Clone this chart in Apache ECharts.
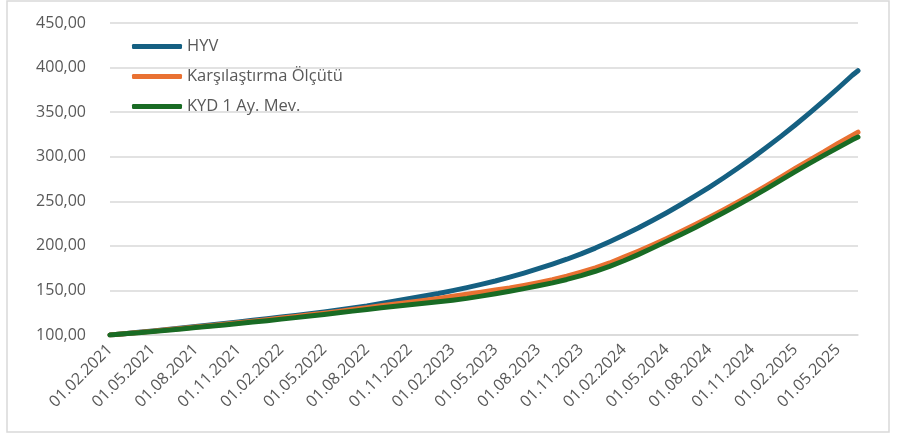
<!DOCTYPE html>
<html>
<head>
<meta charset="utf-8">
<script src="https://cdn.jsdelivr.net/npm/echarts@6/dist/echarts.min.js"></script>
<style>
  html, body { margin: 0; padding: 0; background: #fff; }
  #chart { width: 897px; height: 436px; }
</style>
</head>
<body>
<div id="chart"></div>
<script>
// observation dates (dd.mm.yyyy), last one is mid-June 2025
var dates = [
  '01.02.2021', '01.03.2021', '01.04.2021', '01.05.2021', '01.06.2021', '01.07.2021',
  '01.08.2021', '01.09.2021', '01.10.2021', '01.11.2021', '01.12.2021', '01.01.2022',
  '01.02.2022', '01.03.2022', '01.04.2022', '01.05.2022', '01.06.2022', '01.07.2022',
  '01.08.2022', '01.09.2022', '01.10.2022', '01.11.2022', '01.12.2022', '01.01.2023',
  '01.02.2023', '01.03.2023', '01.04.2023', '01.05.2023', '01.06.2023', '01.07.2023',
  '01.08.2023', '01.09.2023', '01.10.2023', '01.11.2023', '01.12.2023', '01.01.2024',
  '01.02.2024', '01.03.2024', '01.04.2024', '01.05.2024', '01.06.2024', '01.07.2024',
  '01.08.2024', '01.09.2024', '01.10.2024', '01.11.2024', '01.12.2024', '01.01.2025',
  '01.02.2025', '01.03.2025', '01.04.2025', '01.05.2025', '01.06.2025', '13.06.2025'
]

var hyv = [
  100.0, 101.5, 103.0, 104.6, 106.2, 107.8, 109.5, 111.2, 112.9, 114.7, 116.5, 118.3,
  120.1, 122.0, 123.9, 125.9, 128.0, 130.2, 132.6, 135.5, 138.3, 141.0, 143.8, 146.6,
  149.8, 153.2, 156.8, 160.6, 164.9, 169.5, 174.4, 179.6, 185.0, 191.0, 197.5, 204.6,
  212.1, 220.0, 228.4, 237.2, 246.4, 256.0, 266.0, 276.4, 287.3, 298.7, 310.5, 322.8,
  335.6, 348.9, 362.6, 376.8, 391.4, 396.5
]

var olcut = [
  100.0, 101.4, 102.8, 104.3, 105.8, 107.3, 108.9, 110.5, 112.1, 113.8, 115.5, 117.2,
  119.0, 120.8, 122.6, 124.5, 126.5, 128.6, 130.6, 132.8, 134.9, 136.7, 138.8, 141.1,
  143.4, 145.6, 148.0, 150.6, 152.8, 155.6, 158.7, 162.0, 165.9, 170.5, 175.3, 180.8,
  187.3, 194.0, 201.0, 208.3, 216.0, 224.0, 232.2, 240.6, 249.3, 258.2, 267.6, 277.2,
  286.8, 296.2, 305.3, 315.0, 324.0, 327.5
]

var kyd = [
  100.0, 101.3, 102.6, 104.0, 105.4, 106.8, 108.3, 109.8, 111.3, 112.9, 114.5, 116.1,
  117.8, 119.5, 121.2, 123.0, 124.9, 126.8, 128.7, 130.5, 132.3, 133.9, 135.5, 137.2,
  139.0, 141.1, 143.6, 146.3, 149.1, 152.0, 155.2, 158.5, 162.3, 166.7, 171.5, 177.0,
  183.3, 190.2, 197.5, 205.1, 212.8, 220.7, 228.9, 237.4, 246.1, 255.0, 264.3, 273.8,
  283.2, 292.5, 301.5, 310.2, 318.9, 322.0
]

var seriesNames = ['HYV', 'Karşılaştırma Ölçütü', 'KYD 1 Ay. Mev.']
var colors = ['#156082', '#E97132', '#196B24']

// months elapsed since 01.02.2021, so the axis can run on a plain value scale
function monthIndex(s) {
  var p = s.split('.')
  return (+p[2] - 2021) * 12 + (+p[1] - 2) + (+p[0] - 1) / 30
}

function monthLabel(v) {
  if (Math.abs(v - Math.round(v)) > 1e-6 || Math.round(v) % 3 !== 0) return ''
  var m = Math.round(v) + 1
  var y = 2021 + Math.floor(m / 12)
  var mm = (m % 12) + 1
  return '01.' + (mm < 10 ? '0' + mm : mm) + '.' + y
}

function pairs(values) {
  return dates.map(function(d, i) { return [monthIndex(d), values[i]] })
}

var font = 'Open Sans'
var chart = echarts.init(document.getElementById('chart'))

chart.setOption({
  animation: false,
  textStyle: { fontFamily: font },
  color: colors,
  graphic: [{
    type: 'rect',
    shape: { x: 7, y: 1, width: 882, height: 431 },
    style: { fill: 'none', stroke: '#d9d9d9', lineWidth: 1.5 },
    silent: true
  }],
  grid: { left: 110, right: 39, top: 23, bottom: 101 },
  legend: {
    left: 127,
    top: 33,
    orient: 'vertical',
    itemWidth: 50,
    itemHeight: 5,
    itemGap: 13,
    icon: 'roundRect',
    textStyle: { color: '#595959', fontSize: 16.5, fontFamily: font },
    data: seriesNames
  },
  xAxis: {
    type: 'value',
    min: 0,
    max: monthIndex(dates[dates.length - 1]),
    interval: 3,
    axisLine: { show: true, lineStyle: { color: '#d9d9d9', width: 1.5 } },
    axisTick: { show: false },
    splitLine: { show: false },
    axisLabel: {
      rotate: 45,
      margin: 12,
      color: '#595959',
      fontSize: 16,
      fontFamily: font,
      showMaxLabel: false,
      formatter: monthLabel
    }
  },
  yAxis: {
    type: 'value',
    min: 100,
    max: 450,
    interval: 50,
    axisLine: { show: false },
    axisTick: { show: false },
    splitLine: { lineStyle: { color: '#d9d9d9', width: 1.5 } },
    axisLabel: {
      margin: 24,
      color: '#595959',
      fontSize: 16,
      fontFamily: font,
      formatter: function(v) { return v.toFixed(2).replace('.', ',') }
    }
  },
  series: [
    { name: seriesNames[0], data: pairs(hyv) },
    { name: seriesNames[1], data: pairs(olcut) },
    { name: seriesNames[2], data: pairs(kyd) }
  ].map(function(s, i) {
    return {
      name: s.name,
      type: 'line',
      data: s.data,
      showSymbol: false,
      smooth: false,
      lineStyle: { width: 5, color: colors[i], cap: 'round', join: 'round' },
      itemStyle: { color: colors[i] }
    }
  })
})
</script>
</body>
</html>
